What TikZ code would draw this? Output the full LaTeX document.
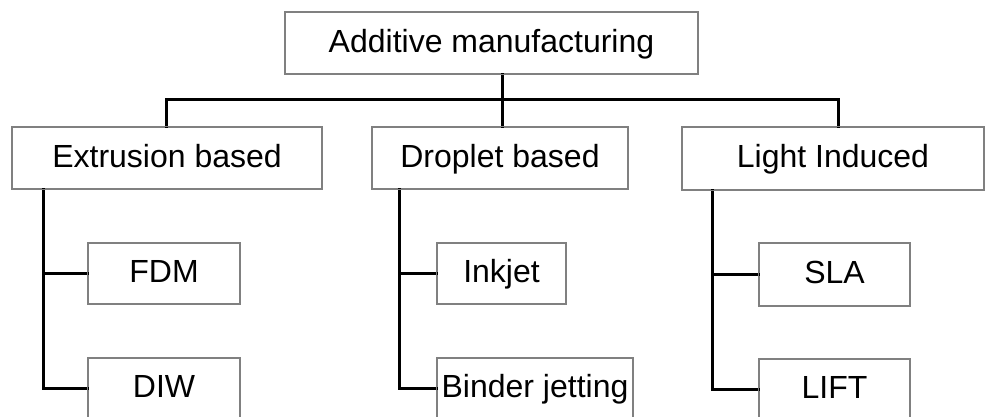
\documentclass[tikz,border=0pt]{standalone}
\usepackage{fontspec}
\setmainfont{Liberation Sans}
\definecolor{boxgray}{RGB}{128,128,128}
\begin{document}
\begin{tikzpicture}[x=1pt,y=-1pt,
  box/.style={draw=boxgray,line width=1.2pt,fill=white,inner sep=0pt,
    font=\fontsize{32}{36}\selectfont,text height=22.9pt,text depth=4.5pt},
  link/.style={draw=black,line width=3pt,line cap=rect,line join=miter}]
\useasboundingbox (0,0) rectangle (985,417);
\clip (0,0) rectangle (985,417);

% top level
\node[box,minimum width=413pt,minimum height=62pt] (am) at (491.5,43) {Additive manufacturing};

% process families
\node[box,minimum width=310pt,minimum height=62pt] (ext) at (167,158) {Extrusion based};
\node[box,minimum width=256pt,minimum height=62pt] (drop) at (500,158) {Droplet based};
\node[box,minimum width=302pt,minimum height=63pt] (light) at (833,158.5) {Light Induced};

% individual techniques
\node[box,minimum width=152pt,minimum height=61pt] (fdm) at (164,273.5) {FDM};
\node[box,minimum width=152pt,minimum height=61pt] (diw) at (164,388.5) {DIW};
\node[box,minimum width=129pt,minimum height=61pt] (ink) at (501.5,273.5) {Inkjet};
\node[box,minimum width=196pt,minimum height=61pt] (bind) at (535,388.5) {Binder jetting};
\node[box,minimum width=151pt,minimum height=63pt] (sla) at (834.5,274.5) {SLA};
\node[box,minimum width=151pt,minimum height=61pt] (lift) at (834.5,389.5) {LIFT};

% bus joints and trunk positions
\coordinate (jm) at (502,100);
\coordinate (jl) at (166,100);
\coordinate (jr) at (838,100);
\coordinate (te) at (43,0);
\coordinate (td) at (399,0);
\coordinate (tl) at (712,0);

% top-level tree
\draw[link] (am.south -| jm) -- (jm);
\draw[link] (jl) -- (jr);
\draw[link] (jl) -- (ext.north -| jl);
\draw[link] (jm) -- (drop.north -| jm);
\draw[link] (jr) -- (light.north -| jr);

% branches to techniques
\draw[link] (ext.south -| te) |- (diw.west);
\draw[link] (te |- fdm.west) -- (fdm.west);
\draw[link] (drop.south -| td) |- (bind.west);
\draw[link] (td |- ink.west) -- (ink.west);
\draw[link] (light.south -| tl) |- (lift.west);
\draw[link] (tl |- sla.west) -- (sla.west);

% redraw box outlines over line ends
\foreach \n in {am,ext,drop,light,fdm,diw,ink,bind,sla,lift}
  \draw[boxgray,line width=1.2pt] (\n.south west) rectangle (\n.north east);
\end{tikzpicture}
\end{document}
